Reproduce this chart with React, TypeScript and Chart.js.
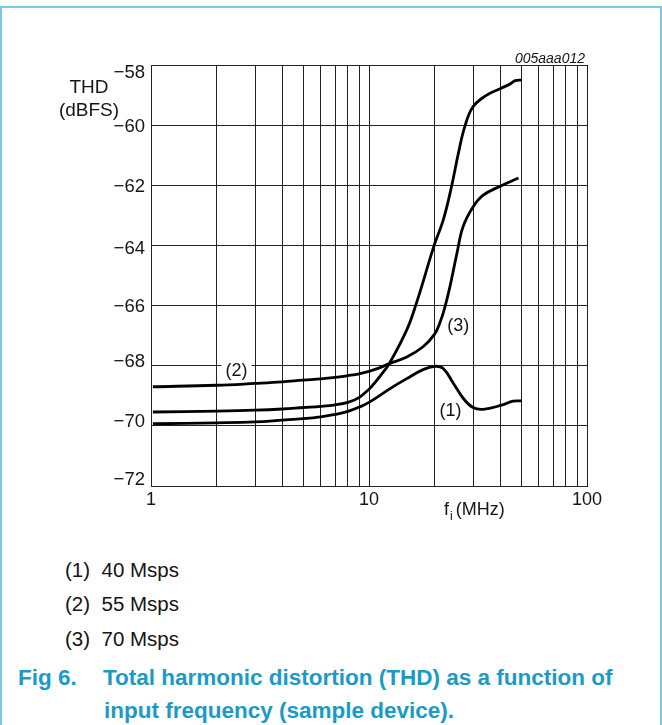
import React, { useEffect, useRef } from 'react';
import { Chart, registerables } from 'chart.js';

Chart.register(...registerables);

const FONT = '"Liberation Sans", Arial, Helvetica, sans-serif';

// ---- axes ----
const xMin = 1;
const xMax = 100;
const xGridValues = [1, 2, 3, 4, 5, 6, 7, 8, 9, 10, 20, 30, 40, 50, 60, 70, 80, 90, 100];
const xTickValues = [1, 10, 100];
const xTickLabels = ['1', '10', '100'];

const yMin = -72;
const yMax = -58;
const yTickValues = [-58, -60, -62, -64, -66, -68, -70, -72];
const yTickLabels = ['\u221258', '\u221260', '\u221262', '\u221264', '\u221266', '\u221268', '\u221270', '\u221272'];

// ---- curves (f in MHz, THD in dBFS) ----
// curve (1): 40 Msps, with the bump near 20 MHz
const freqCurve1 = [1.02, 2, 3, 4, 5, 6, 7, 8, 9, 10, 12.5, 14.9, 17.7, 20, 21.9, 24.4, 27.1, 30, 33.4, 40.6, 45.8, 50];
const thdCurve1 = [-69.93, -69.9, -69.87, -69.81, -69.76, -69.7, -69.62, -69.52, -69.38, -69.22, -68.76, -68.43, -68.13, -68.02, -68.09, -68.59, -69.09, -69.39, -69.45, -69.31, -69.18, -69.17];

// curve starting at about -68.7 dB (label "(2)"), ending near -61.8 dB
const freqCurveUpperStart = [1.02, 2, 3, 4, 5, 6, 7, 8, 9, 10, 11, 12.4, 14.9, 17.7, 20, 21.2, 22.2, 23.5, 25.3, 27, 30, 33.4, 40, 48.5];
const thdCurveUpperStart = [-68.7, -68.65, -68.59, -68.54, -68.48, -68.44, -68.39, -68.33, -68.27, -68.19, -68.09, -67.93, -67.71, -67.37, -66.95, -66.55, -66.1, -65.38, -64.27, -63.38, -62.72, -62.33, -62.03, -61.76];

// curve starting at about -69.5 dB, rising steeply to -58.5 dB
const freqCurveSteep = [1.02, 2, 3, 4, 5, 6, 7, 8, 9, 10, 10.4, 11.6, 12.4, 14.9, 16.5, 20, 21.9, 23.9, 25.7, 27.5, 30, 34.7, 40.2, 44.4, 46.9, 50];
const thdCurveSteep = [-69.54, -69.51, -69.48, -69.44, -69.39, -69.35, -69.3, -69.22, -69.06, -68.78, -68.65, -68.22, -67.93, -66.81, -65.92, -63.95, -63.16, -62.05, -60.94, -60.05, -59.39, -59.0, -58.78, -58.63, -58.52, -58.5];

// curve annotations (text, position in data units)
const curveLabelTexts = ['(2)', '(3)', '(1)'];
const curveLabelFreq = [2.47, 25.7, 23.65];
const curveLabelThd = [-68.19, -66.7, -69.53];

const legendNumbers = ['(1)', '(2)', '(3)'];
const legendTexts = ['40 Msps', '55 Msps', '70 Msps'];

const toPoints = (xs: number[], ys: number[]) => xs.map((x, i) => ({ x, y: ys[i] }));

const yTickNudge = [6.6, 0, 0, 2, 0, -5, -5, -8];

const textPlugin = {
  id: 'textPlugin',
  afterDraw(chart: any) {
    const ctx = chart.ctx as CanvasRenderingContext2D;
    const xs = chart.scales.x;
    const ys = chart.scales.y;
    ctx.save();
    ctx.fillStyle = '#151515';
    ctx.textBaseline = 'alphabetic';

    // y tick labels
    const yfs = 18.5;
    ctx.font = `${yfs}px ${FONT}`;
    ctx.textAlign = 'right';
    yTickValues.forEach((v, i) => {
      const cy = ys.getPixelForValue(v) + yTickNudge[i];
      ctx.fillText(yTickLabels[i], xs.left - 6, cy + 0.358 * yfs);
    });

    // x tick labels
    const xfs = 18;
    ctx.font = `${xfs}px ${FONT}`;
    ctx.textAlign = 'center';
    xTickValues.forEach((v, i) => {
      ctx.fillText(xTickLabels[i], xs.getPixelForValue(v), ys.bottom + 6 + 0.716 * xfs);
    });

    // curve labels
    const lfs = 18;
    ctx.font = `${lfs}px ${FONT}`;
    curveLabelTexts.forEach((t, i) => {
      const px = xs.getPixelForValue(curveLabelFreq[i]);
      const py = ys.getPixelForValue(curveLabelThd[i]);
      const w = ctx.measureText(t).width;
      if (i === 0) {
        ctx.fillStyle = '#ffffff';
        ctx.fillRect(px - w / 2 - 4, py - 10, w + 8, 19);
        ctx.fillStyle = '#151515';
      }
      ctx.fillText(t, px, py + 0.258 * lfs);
    });
    ctx.restore();
  },
};

export default function App() {
  const canvasRef = useRef<HTMLCanvasElement | null>(null);

  useEffect(() => {
    const canvas = canvasRef.current;
    if (!canvas) return;
    const lineStyle = {
      borderColor: '#000000',
      borderWidth: 2.8,
      pointRadius: 0,
      fill: false,
      tension: 0.4,
    };
    const gridOpts = { color: '#222222', lineWidth: 1, drawTicks: false };
    const chart = new Chart(canvas, {
      type: 'line',
      data: {
        datasets: [
          { label: '40 Msps', data: toPoints(freqCurve1, thdCurve1), ...lineStyle },
          { label: 'curve (2)', data: toPoints(freqCurveUpperStart, thdCurveUpperStart), ...lineStyle },
          { label: 'curve (3)', data: toPoints(freqCurveSteep, thdCurveSteep), ...lineStyle },
        ],
      },
      options: {
        responsive: false,
        animation: false,
        devicePixelRatio: 1,
        layout: { padding: { left: 0, top: 65, right: 75, bottom: 0 } },
        plugins: { legend: { display: false }, tooltip: { enabled: false }, title: { display: false } },
        scales: {
          x: {
            type: 'logarithmic',
            min: xMin,
            max: xMax,
            afterBuildTicks: (s: any) => {
              s.ticks = xGridValues.map((v) => ({ value: v }));
            },
            afterFit: (s: any) => {
              s.height = 54;
            },
            ticks: { display: false, autoSkip: false },
            grid: gridOpts,
            border: { color: '#222222', width: 1 },
          },
          y: {
            type: 'linear',
            min: yMin,
            max: yMax,
            afterBuildTicks: (s: any) => {
              s.ticks = yTickValues.slice().reverse().map((v) => ({ value: v }));
            },
            afterFit: (s: any) => {
              s.width = 151;
            },
            ticks: { display: false },
            grid: gridOpts,
            border: { color: '#222222', width: 1 },
          },
        },
      },
      plugins: [textPlugin],
    });
    return () => chart.destroy();
  }, []);

  const text = (capCenter: number, fs: number) => ({
    position: 'absolute' as const,
    top: capCenter - 0.4885 * fs,
    fontSize: fs,
    lineHeight: `${fs}px`,
    fontFamily: FONT,
    whiteSpace: 'nowrap' as const,
    color: '#151515',
  });

  const caption = '#1b9ac6';

  return (
    <div style={{ position: 'fixed', left: 0, top: 0, width: 662, height: 725, background: '#ffffff', overflow: 'hidden' }}>
      <div
        style={{
          position: 'absolute',
          left: 0,
          top: 6,
          width: 662,
          height: 740,
          boxSizing: 'border-box',
          border: '2px solid #7ccbe0',
          borderBottom: 'none',
        }}
      />
      <canvas ref={canvasRef} width={662} height={540} style={{ position: 'absolute', left: 0, top: 0, display: 'block' }} />

      <div style={{ ...text(58, 14), right: 662 - 585, fontStyle: 'italic' }}>005aaa012</div>
      <div style={{ ...text(86.3, 19), left: 39, width: 100, textAlign: 'center' }}>THD</div>
      <div style={{ ...text(109.7, 19), left: 39, width: 100, textAlign: 'center' }}>(dBFS)</div>
      <div style={{ ...text(509, 18), left: 444 }}>
        f<span style={{ position: 'relative', top: 5, fontSize: 12, marginLeft: 1, marginRight: 3 }}>i</span>(MHz)
      </div>

      {legendNumbers.map((n, i) => (
        <React.Fragment key={n}>
          <div style={{ ...text(570 + i * 34.3, 20.5), left: 65 }}>{n}</div>
          <div style={{ ...text(570 + i * 34.3, 20.5), left: 101.5 }}>{legendTexts[i]}</div>
        </React.Fragment>
      ))}

      <div style={{ ...text(677.8, 22.5), left: 18, fontWeight: 'bold', color: caption }}>Fig 6.</div>
      <div style={{ ...text(677.8, 22.5), left: 103, fontWeight: 'bold', color: caption }}>
        Total harmonic distortion (THD) as a function of
      </div>
      <div style={{ ...text(711.1, 22.5), left: 104, fontWeight: 'bold', color: caption }}>
        input frequency (sample device).
      </div>
    </div>
  );
}
